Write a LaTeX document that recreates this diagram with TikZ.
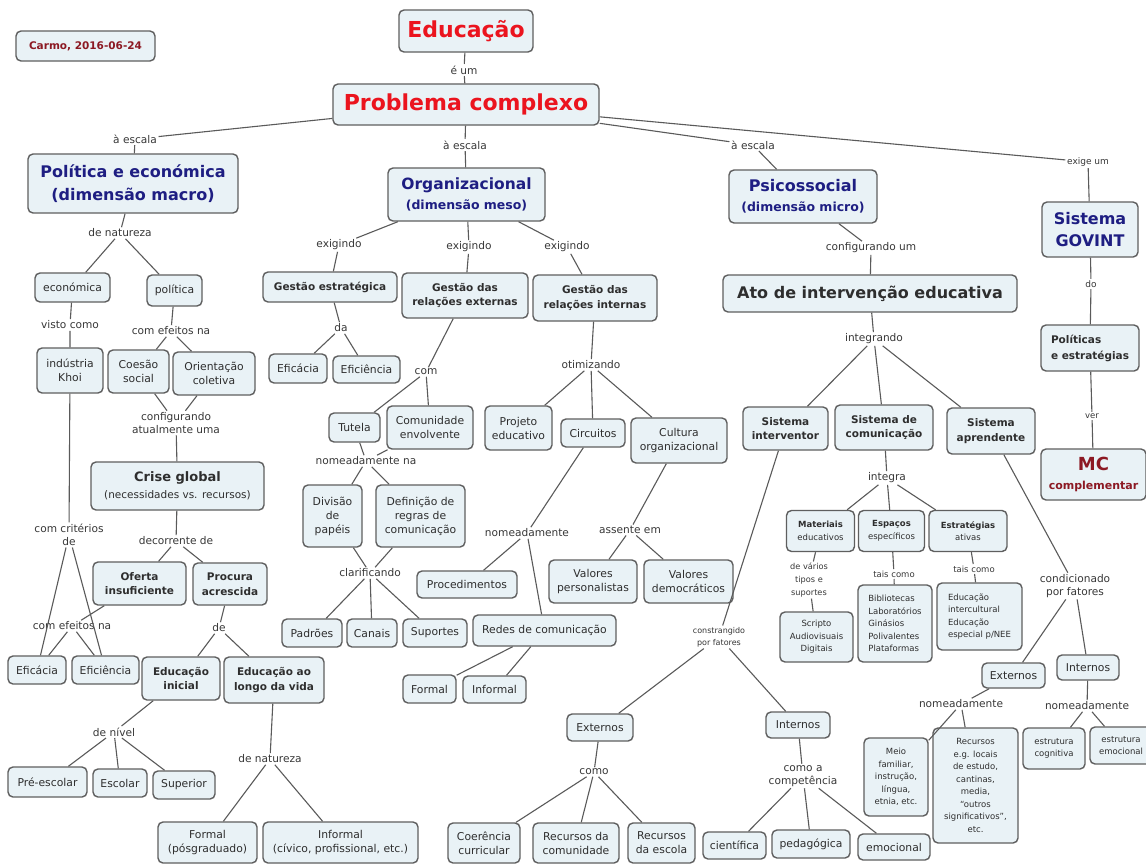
\documentclass[tikz,border=0pt]{standalone}
\usepackage{fontspec}
\setmainfont{DejaVu Sans}
\definecolor{boxfill}{RGB}{233,242,246}
\definecolor{boxline}{RGB}{95,95,95}
\definecolor{linkgray}{RGB}{90,90,90}
\definecolor{lblgray}{RGB}{55,55,55}
\definecolor{titlered}{RGB}{235,20,30}
\definecolor{navy}{RGB}{30,30,130}
\definecolor{darkred}{RGB}{140,25,35}
\tikzset{
  box/.style={draw=boxline, fill=boxfill, rounded corners=5pt, line width=1.4pt,
    inner sep=2pt, align=center, text=black!82, font=\fontsize{10.8}{14}\selectfont},
  bbox/.style={box, font=\fontsize{10.5}{14.5}\selectfont\bfseries},
  sbox/.style={box, font=\fontsize{8.5}{12.5}\selectfont},
  lbl/.style={inner sep=1.5pt, align=center, text=lblgray, font=\fontsize{10.6}{13}\selectfont},
  slbl/.style={lbl, font=\fontsize{8.5}{12.5}\selectfont},
  link/.style={draw=linkgray, line width=1.1pt},
  sz/.style 2 args={minimum width=#1, minimum height=#2},
}
\begin{document}
\begin{tikzpicture}[x=1pt,y=-1pt]
\fill[white] (0,0) rectangle (1146,865);
\useasboundingbox (0,0) rectangle (1146,865);

% ---------- top ----------
\node[box, sz={139pt}{30pt}, text=darkred, font=\fontsize{10.5}{13}\selectfont\bfseries] (carmo) at (85.5,46) {Carmo, 2016-06-24};
\node[box, sz={134pt}{42pt}, text=titlered, font=\fontsize{22}{26}\selectfont\bfseries] (edu) at (466,31) {Educação};
\node[lbl] (eum) at (464,70) {é um};
\node[box, sz={266pt}{41pt}, text=titlered, font=\fontsize{22}{26}\selectfont\bfseries] (prob) at (466,104.5) {Problema complexo};

\node[lbl] (escL) at (135,139) {à escala};
\node[lbl] (escM) at (465,145) {à escala};
\node[lbl] (escR) at (753,145) {à escala};
\node[lbl, font=\fontsize{9}{11}\selectfont] (exige) at (1088,162) {exige um};

\node[box, sz={210pt}{59pt}, text=navy, font=\fontsize{16}{23}\selectfont\bfseries] (pol) at (133,183.5) {Política e económica\\(dimensão macro)};
\node[box, sz={157pt}{53pt}, text=navy, font=\fontsize{15.5}{20}\selectfont\bfseries] (org) at (466.5,194.5) {Organizacional\\{\fontsize{12.5}{20}\selectfont (dimensão meso)}};
\node[box, sz={148pt}{53pt}, text=navy, font=\fontsize{16}{20}\selectfont\bfseries] (psi) at (803,196.5) {Psicossocial\\{\fontsize{12.5}{20}\selectfont (dimensão micro)}};
\node[box, sz={96pt}{55pt}, text=navy, font=\fontsize{16}{22}\selectfont\bfseries] (gov) at (1090,229.5) {Sistema\\GOVINT};
\node[lbl, font=\fontsize{9}{11}\selectfont] (do) at (1091,284) {do};
\node[box, sz={98pt}{46pt}, align=left, font=\fontsize{10.5}{16}\selectfont\bfseries] (poles) at (1090,348) {Políticas\\e estratégias};
\node[lbl, font=\fontsize{8.5}{11}\selectfont] (ver) at (1092,416) {ver};
\node[box, sz={105pt}{51pt}, text=darkred, font=\fontsize{18}{19}\selectfont\bfseries] (mc) at (1093.5,474.5) {MC\\{\fontsize{11}{19}\selectfont complementar}};

% ---------- macro branch ----------
\node[lbl] (denat) at (120,233) {de natureza};
\node[box, sz={75pt}{29pt}] (econ) at (72.5,287.5) {económica};
\node[box, sz={55pt}{31pt}] (polt) at (174.5,290.5) {política};
\node[lbl] (visto) at (70,325) {visto como};
\node[box, sz={66pt}{45pt}] (khoi) at (70,370.5) {indústria\\Khoi};
\node[lbl] (cefeitos) at (171,331) {com efeitos na};
\node[box, sz={61pt}{43pt}] (coes) at (138.5,371.5) {Coesão\\social};
\node[box, sz={82pt}{43pt}] (orie) at (214,373.5) {Orientação\\coletiva};
\node[lbl] (config) at (176,423) {configurando\\atualmente  uma};
\node[box, sz={173pt}{48pt}, font=\fontsize{13}{17}\selectfont\bfseries] (crise) at (177.5,486) {Crise global\\{\fontsize{10.5}{17}\selectfont\mdseries (necessidades vs. recursos)}};
\node[lbl] (crit) at (69,535) {com critérios\\de};
\node[lbl] (decor) at (176,541) {decorrente de};
\node[bbox, sz={93pt}{43pt}] (ofer) at (139.5,583.5) {Oferta\\insuficiente};
\node[bbox, sz={74pt}{42pt}] (procu) at (230,584) {Procura\\acrescida};
\node[lbl] (cefeitosb) at (72,626) {com efeitos na};
\node[lbl] (de) at (219,628) {de};
\node[box, sz={58pt}{28pt}] (efcL) at (37,670) {Eficácia};
\node[box, sz={67pt}{28pt}] (efiL) at (105.5,670) {Eficiência};
\node[bbox, sz={78pt}{43pt}] (eini) at (181,678.5) {Educação\\inicial};
\node[bbox, sz={100pt}{46pt}] (elon) at (274,680) {Educação ao\\longo da vida};
\node[lbl] (deniv) at (114,732) {de nível};
\node[box, sz={79pt}{30pt}] (pre) at (47.5,782) {Pré-escolar};
\node[box, sz={54pt}{28pt}] (escol) at (120,783) {Escolar};
\node[box, sz={62pt}{28pt}] (supe) at (184,785) {Superior};
\node[lbl] (denatb) at (270,759) {de natureza};
\node[box, sz={99pt}{41pt}] (form) at (207.5,842.5) {Formal\\(pósgraduado)};
\node[box, sz={155pt}{41pt}] (info) at (340.5,842.5) {Informal\\(cívico, profissional, etc.)};

% ---------- meso branch ----------
\node[lbl] (exL) at (339,245) {exigindo};
\node[lbl] (exM) at (469,247) {exigindo};
\node[lbl] (exR) at (567,247) {exigindo};
\node[bbox, sz={134pt}{30pt}] (gest) at (330,287) {Gestão estratégica};
\node[bbox, sz={126pt}{45pt}] (gre) at (465,295.5) {Gestão das\\relações externas};
\node[bbox, sz={124pt}{46pt}] (gri) at (595,298) {Gestão das\\relações internas};
\node[lbl] (da) at (341,328) {da};
\node[box, sz={58pt}{29pt}] (efcM) at (298,368.5) {Eficácia};
\node[box, sz={67pt}{27pt}] (efiM) at (366.5,369.5) {Eficiência};
\node[lbl] (com) at (426,372) {com};
\node[box, sz={51pt}{29pt}] (tut) at (354.5,427.5) {Tutela};
\node[box, sz={86pt}{43pt}] (comenv) at (430,427.5) {Comunidade\\envolvente};
\node[lbl] (nomna) at (366,461) {nomeadamente na};
\node[box, sz={59pt}{62pt}] (divp) at (332.5,516) {Divisão\\de\\papéis};
\node[box, sz={89pt}{62pt}] (defr) at (420.5,516) {Definição de\\regras de\\comunicação};
\node[lbl] (clar) at (370,573) {clarificando};
\node[box, sz={60pt}{28pt}] (pad) at (312,633) {Padrões};
\node[box, sz={50pt}{28pt}] (can) at (372,633) {Canais};
\node[box, sz={64pt}{28pt}] (supt) at (435,633) {Suportes};
\node[lbl] (otim) at (591,365) {otimizando};
\node[box, sz={67pt}{44pt}] (proj) at (518.5,428) {Projeto\\educativo};
\node[box, sz={64pt}{28pt}] (circ) at (593,433) {Circuitos};
\node[box, sz={96pt}{45pt}] (cult) at (679,440.5) {Cultura\\organizacional};
\node[lbl] (nomC) at (527,533) {nomeadamente};
\node[lbl] (assente) at (630,530) {assente em};
\node[box, sz={100pt}{27pt}] (proc) at (467,584.5) {Procedimentos};
\node[box, sz={88pt}{43pt}] (vper) at (593,581.5) {Valores\\personalistas};
\node[box, sz={89pt}{43pt}] (vdem) at (688.5,581.5) {Valores\\democráticos};
\node[box, sz={143pt}{31pt}] (redes) at (544.5,630.5) {Redes de comunicação};
\node[box, sz={53pt}{28pt}] (fmM) at (429.5,689) {Formal};
\node[box, sz={63pt}{27pt}] (infM) at (494.5,689.5) {Informal};

% ---------- micro branch ----------
\node[lbl] (cfgum) at (871,248) {configurando um};
\node[box, sz={294pt}{37pt}, font=\fontsize{16}{20}\selectfont\bfseries] (ato) at (870,293.5) {Ato de intervenção educativa};
\node[lbl] (integr) at (874,339) {integrando};
\node[bbox, sz={85pt}{43pt}] (si) at (785.5,428.5) {Sistema\\interventor};
\node[bbox, sz={98pt}{45pt}] (sc) at (884,427.5) {Sistema de\\comunicação};
\node[bbox, sz={88pt}{46pt}] (sa) at (991,431) {Sistema\\aprendente};
\node[lbl] (integra) at (887,478) {integra};
\node[sbox, sz={68pt}{41pt}] (mat) at (820.5,531) {\textbf{Materiais}\\educativos};
\node[sbox, sz={66pt}{41pt}] (esp) at (891.5,531) {\textbf{Espaços}\\específicos};
\node[sbox, sz={78pt}{41pt}] (est) at (968,531) {\textbf{Estratégias}\\ativas};
\node[slbl, font=\fontsize{8.2}{12.7}\selectfont] (devar) at (809,580) {de vários\\tipos e\\suportes};
\node[slbl] (taisE) at (894,574) {tais como};
\node[slbl] (taisT) at (974,569) {tais como};
\node[sbox, sz={73pt}{50pt}] (scrip) at (816.5,637) {Scripto\\Audiovisuais\\Digitais};
\node[sbox, sz={74pt}{77pt}, align=left] (bibl) at (895,623.5) {Bibliotecas\\Laboratórios\\Ginásios\\Polivalentes\\Plataformas};
\node[sbox, sz={85pt}{67pt}, align=left] (eduint) at (979.5,616.5) {Educação\\intercultural\\Educação\\especial p/NEE};
\node[lbl] (cond) at (1075,586) {condicionado\\por fatores};
\node[box, sz={63pt}{25pt}] (extR) at (1013.5,675.5) {Externos};
\node[box, sz={62pt}{25pt}] (intR) at (1088,667.5) {Internos};
\node[lbl] (nomExt) at (961,704) {nomeadamente};
\node[lbl] (nomInt) at (1087,706) {nomeadamente};
\node[sbox, sz={64pt}{78pt}] (meio) at (896,777) {Meio\\familiar,\\instrução,\\língua,\\etnia, etc.};
\node[sbox, sz={85pt}{115pt}] (recE) at (975.5,785.5) {Recursos\\e.g. locais\\de estudo,\\cantinas,\\media,\\“outros\\significativos”,\\etc.};
\node[sbox, sz={62pt}{41pt}] (cogn) at (1054,748.5) {estrutura\\cognitiva};
\node[sbox, sz={62pt}{37pt}] (emoc) at (1121,745.5) {estrutura\\emocional};
\node[slbl, font=\fontsize{8}{12}\selectfont] (constr) at (719,637) {constrangido\\por fatores};
\node[box, sz={66pt}{27pt}] (extM) at (600,727.5) {Externos};
\node[box, sz={64pt}{26pt}] (intM) at (798,725) {Internos};
\node[lbl] (como) at (594,772) {como};
\node[lbl] (comoa) at (803,776) {como a\\competência};
\node[box, sz={72pt}{40pt}] (coer) at (484,843) {Coerência\\curricular};
\node[box, sz={86pt}{40pt}] (rcom) at (576,843) {Recursos da\\comunidade};
\node[box, sz={67pt}{40pt}] (resc) at (661.5,843) {Recursos\\da escola};
\node[box, sz={63pt}{27pt}] (cient) at (734.5,845.5) {científica};
\node[box, sz={78pt}{28pt}] (pedag) at (811,844) {pedagógica};
\node[box, sz={72pt}{26pt}] (emocI) at (894,847) {emocional};

% ---------- connectors ----------
\path[link]
  (edu) -- (eum)  (eum) -- (prob)
  (prob) -- (escL)  (escL) -- (pol)
  (prob) -- (escM)  (escM) -- (org)
  (prob) -- (escR)  (escR) -- (psi)
  (prob) -- (exige)  (exige) -- (gov)
  (gov) -- (do)  (do) -- (poles)
  (poles) -- (ver)  (ver) -- (mc)
  % macro
  (pol) -- (denat)  (denat) -- (econ)  (denat) -- (polt)
  (econ) -- (visto)  (visto) -- (khoi)
  (khoi) -- (crit)  (crit) -- (efcL)  (crit) -- (efiL)
  (polt) -- (cefeitos)  (cefeitos) -- (coes)  (cefeitos) -- (orie)
  (coes) -- (config)  (orie) -- (config)  (config) -- (crise)
  (crise) -- (decor)  (decor) -- (ofer)  (decor) -- (procu)
  (ofer) -- (cefeitosb)  (cefeitosb) -- (efcL)  (cefeitosb) -- (efiL)
  (procu) -- (de)  (de) -- (eini)  (de) -- (elon)
  (eini) -- (deniv)  (deniv) -- (pre)  (deniv) -- (escol)  (deniv) -- (supe)
  (elon) -- (denatb)  (denatb) -- (form)  (denatb) -- (info)
  % meso
  (org) -- (exL)  (exL) -- (gest)
  (org) -- (exM)  (exM) -- (gre)
  (org) -- (exR)  (exR) -- (gri)
  (gest) -- (da)  (da) -- (efcM)  (da) -- (efiM)
  (gre) -- (com)  (com) -- (tut)  (com) -- (comenv)
  (tut) -- (nomna)  (comenv) -- (nomna)  (nomna) -- (divp)  (nomna) -- (defr)
  (divp) -- (clar)  (defr) -- (clar)  (clar) -- (pad)  (clar) -- (can)  (clar) -- (supt)
  (gri) -- (otim)  (otim) -- (proj)  (otim) -- (circ)  (otim) -- (cult)
  (circ) -- (nomC)  (nomC) -- (proc)  (nomC) -- (redes)
  (cult) -- (assente)  (assente) -- (vper)  (assente) -- (vdem)
  (redes) -- (fmM)  (redes) -- (infM)
  % micro
  (psi) -- (cfgum)  (cfgum) -- (ato)
  (ato) -- (integr)  (integr) -- (si)  (integr) -- (sc)  (integr) -- (sa)
  (sc) -- (integra)  (integra) -- (mat)  (integra) -- (esp)  (integra) -- (est)
  (mat) -- (devar)  (devar) -- (scrip)
  (esp) -- (taisE)  (taisE) -- (bibl)
  (est) -- (taisT)  (taisT) -- (eduint)
  (si) -- (constr)  (constr) -- (extM)  (constr) -- (intM)
  (extM) -- (como)  (como) -- (coer)  (como) -- (rcom)  (como) -- (resc)
  (intM) -- (comoa)  (comoa) -- (cient)  (comoa) -- (pedag)  (comoa) -- (emocI)
  (sa) -- (cond)  (cond) -- (extR)  (cond) -- (intR)
  (extR) -- (nomExt)  (nomExt) -- (meio)  (nomExt) -- (recE)
  (intR) -- (nomInt)  (nomInt) -- (cogn)  (nomInt) -- (emoc);
\end{tikzpicture}
\end{document}
